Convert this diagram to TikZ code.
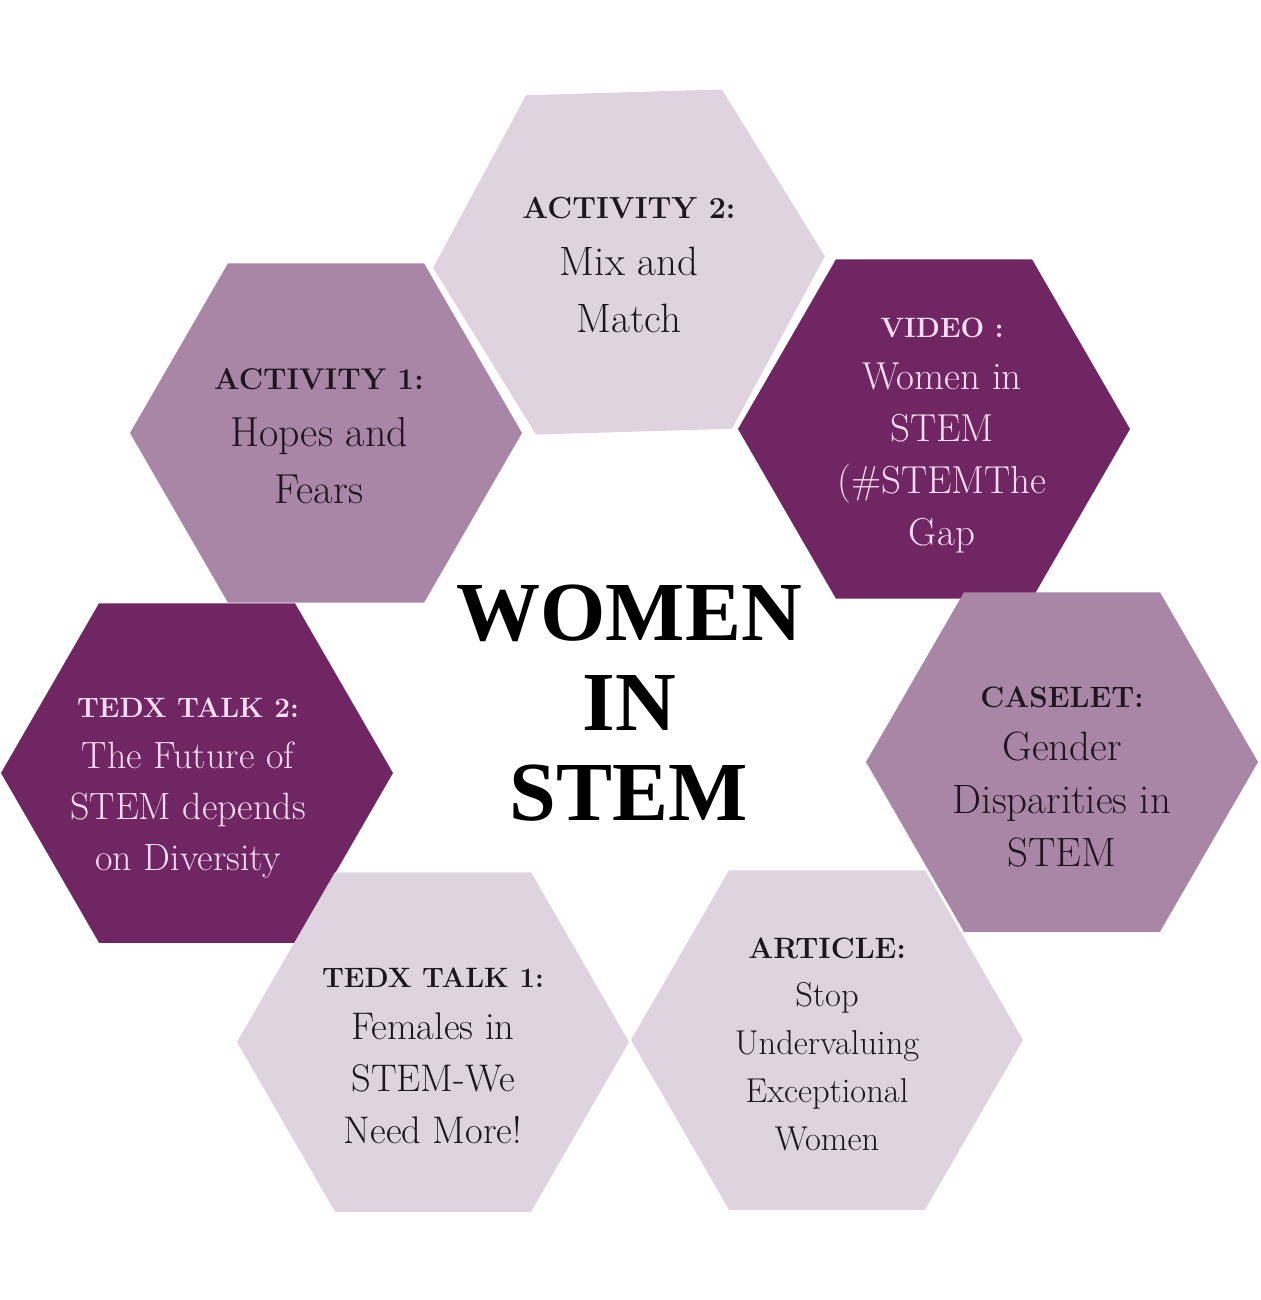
\documentclass[tikz,border=0pt]{standalone}
\usepackage{fontspec}
\newfontfamily\titlefont{Liberation Serif}
\usetikzlibrary{shapes.geometric}
\definecolor{hexlight}{HTML}{E0D3E0}
\definecolor{hexmid}{HTML}{A986A6}
\definecolor{hexdark}{HTML}{6F2662}
\definecolor{inkdark}{HTML}{1E161E}
\definecolor{inklight}{HTML}{F8DDF3}
\tikzset{
  hexbox/.style={regular polygon, regular polygon sides=6, minimum size=392pt,
    inner sep=0pt, outer sep=0pt, draw=none},
  lighthex/.style={hexbox, fill=hexlight},
  midhex/.style={hexbox, fill=hexmid},
  darkhex/.style={hexbox, fill=hexdark},
  hextext/.style={align=center, anchor=base, inner sep=0pt, text=inkdark},
  hextextlight/.style={hextext, text=inklight},
}
\begin{document}
\begin{tikzpicture}[x=1pt,y=-1pt]
\useasboundingbox (0,0) rectangle (1260,1300);
\fill[white] (0,0) rectangle (1260,1300);

% hexagons
\node[lighthex, rotate=1.7] (h1) at (629,262) {};
\node[midhex]   (h2) at (326,433) {};
\node[darkhex]  (h3) at (934,429) {};
\node[darkhex]  (h4) at (197,773) {};
\node[midhex]   (h5) at (1062,762) {};
\node[lighthex] (h6) at (433,1042) {};
\node[lighthex] (h7) at (827,1040) {};

% texts (anchor base = baseline of the last line)
\node[hextext, font={\fontsize{41}{57}\selectfont}] (t1) at (629,332)
  {{\bfseries\fontsize{30.5}{57}\selectfont ACTIVITY 2:}\\Mix and\\Match};
\node[hextext, font={\fontsize{42}{57}\selectfont}] (t2) at (319,503)
  {{\bfseries\fontsize{30}{57}\selectfont ACTIVITY 1:}\\Hopes and\\Fears};
\node[hextextlight, font={\fontsize{39}{52}\selectfont}] (t3) at (942,545)
  {{\bfseries\fontsize{28}{52}\selectfont VIDEO :}\\Women in\\STEM\\(\#STEMThe\\Gap};
\node[hextextlight, font={\fontsize{38}{51}\selectfont}] (t4) at (188,870)
  {{\bfseries\fontsize{28}{51}\selectfont TEDX TALK 2:}\\The Future of\\STEM depends\\on Diversity};
\node[hextext, font={\fontsize{41}{53}\selectfont}] (t5) at (1062,866)
  {{\bfseries\fontsize{29.5}{53}\selectfont CASELET:}\\Gender\\Disparities in\\STEM};
\node[hextext, font={\fontsize{38.5}{52}\selectfont}] (t6) at (433,1143)
  {{\bfseries\fontsize{28}{52}\selectfont TEDX TALK 1:}\\Females in\\STEM-We\\Need More!};
\node[hextext, font={\fontsize{34.5}{48}\selectfont}] (t7) at (827,1150)
  {{\bfseries\fontsize{29.5}{48}\selectfont ARTICLE:}\\Stop\\Undervaluing\\Exceptional\\Women};

% central title
\node[align=center, anchor=base, inner sep=0pt, text=black,
  font={\titlefont\bfseries\fontsize{84}{90}\selectfont}] (title) at (629,820)
  {WOMEN\\IN\\STEM};
\end{tikzpicture}
\end{document}
